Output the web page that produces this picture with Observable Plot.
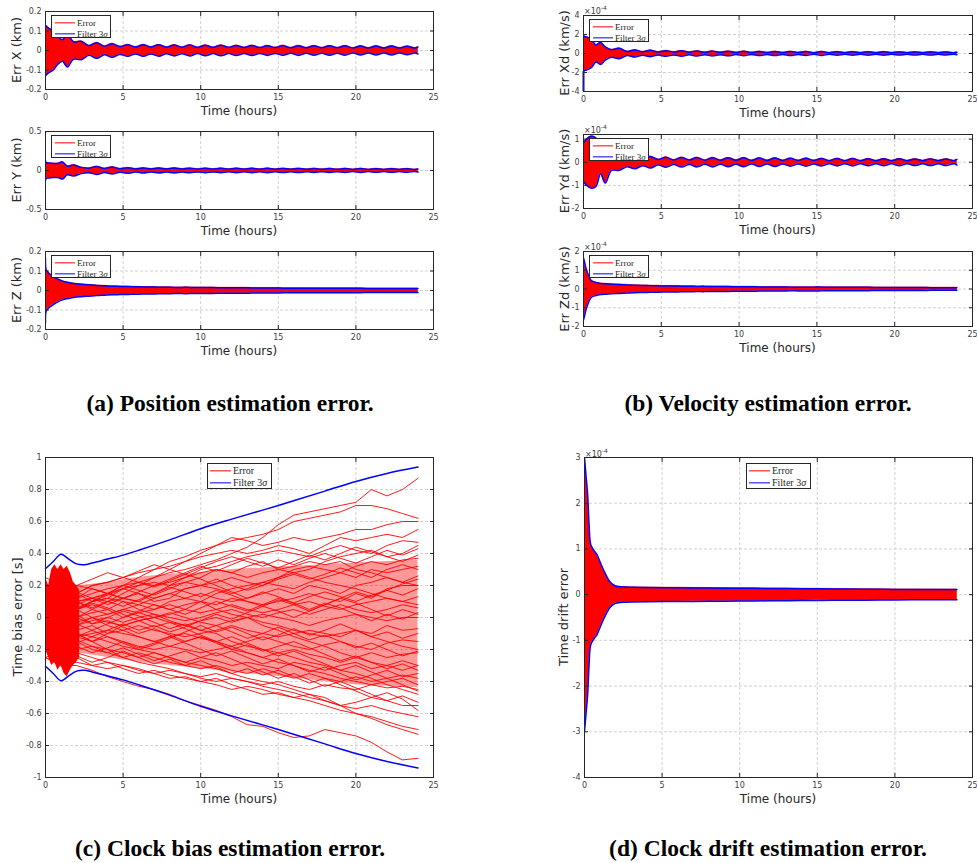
<!DOCTYPE html>
<html><head><meta charset="utf-8">
<script src="https://cdn.jsdelivr.net/npm/d3@7"></script>
<script src="https://cdn.jsdelivr.net/npm/@observablehq/plot@0.6"></script>
<style>
body{margin:0;background:#fff;}
#fig{position:relative;width:977px;height:863px;overflow:hidden;font-family:"DejaVu Sans",sans-serif;background:#fff;}
.ytitle{position:absolute;font-size:13px;color:#262626;transform:translate(-50%,-50%) rotate(-90deg);white-space:nowrap;line-height:1;}
.xtitle{position:absolute;font-size:12px;color:#262626;transform:translate(-50%,-50%);white-space:nowrap;line-height:1;}
.cap{position:absolute;font-family:"Liberation Serif","Times New Roman",serif;font-weight:bold;font-size:23.5px;line-height:1;transform:translateX(-50%);white-space:nowrap;color:#000;}
.leg{position:absolute;background:#fff;border:1px solid #262626;font-family:"Liberation Serif","DejaVu Serif",serif;color:#262626;box-sizing:border-box;}
.leg span.t{position:absolute;line-height:1;transform:translateY(-50%);white-space:nowrap;}
.leg div.l{position:absolute;height:1.3px;transform:translateY(-50%);}
.exp{position:absolute;font-size:8px;color:#404040;line-height:1;white-space:nowrap;}
.exp span{font-size:6px;vertical-align:4px;}
</style></head><body><div id="fig"></div><script>
// ---------- data ----------
const hourTicks = [0, 5, 10, 15, 20, 25];
// common time grid for the six small panels (hours)
const tS = [0, 0.05, 0.2, 0.5, 0.8, 1.1, 1.4, 1.8, 2.3, 2.8,
  3.3, 3.8, 4.3, 4.8, 5.3, 5.8, 6.3, 6.8, 7.3, 7.8,
  8.3, 8.8, 9.3, 9.8, 10.3, 10.8, 11.3, 11.8, 12.3, 12.8,
  13.3, 13.8, 14.3, 14.8, 15.3, 15.8, 16.3, 16.8, 17.3, 17.8,
  18.3, 18.8, 19.3, 19.8, 20.3, 20.8, 21.3, 21.8, 22.3, 22.8,
  23.3, 23.8, 24];
// filter 3-sigma envelopes (km)
const sigX = [0.13, 0.125, 0.115, 0.1, 0.07, 0.055, 0.085, 0.045, 0.047, 0.025,
  0.04, 0.022, 0.035, 0.02, 0.03, 0.018, 0.03, 0.018, 0.029, 0.017,
  0.028, 0.017, 0.028, 0.016, 0.027, 0.016, 0.027, 0.016, 0.026, 0.015,
  0.026, 0.015, 0.025, 0.015, 0.025, 0.014, 0.025, 0.014, 0.024, 0.014,
  0.024, 0.014, 0.024, 0.013, 0.023, 0.013, 0.023, 0.013, 0.023, 0.013,
  0.022, 0.013, 0.018];
const sigY = [0.52, 0.1, 0.095, 0.09, 0.09, 0.11, 0.055, 0.07, 0.04, 0.03,
  0.05, 0.025, 0.045, 0.022, 0.035, 0.02, 0.033, 0.02, 0.032, 0.019,
  0.031, 0.019, 0.03, 0.018, 0.03, 0.018, 0.029, 0.017, 0.029, 0.017,
  0.028, 0.016, 0.028, 0.016, 0.027, 0.016, 0.027, 0.015, 0.026, 0.015,
  0.026, 0.015, 0.025, 0.014, 0.025, 0.014, 0.024, 0.014, 0.024, 0.014,
  0.023, 0.013, 0.02];
const sigZ = [0.165, 0.105, 0.09, 0.072, 0.058, 0.048, 0.042, 0.036, 0.032, 0.029,
  0.026, 0.024, 0.022, 0.021, 0.02, 0.019, 0.018, 0.018, 0.017, 0.017,
  0.016, 0.016, 0.016, 0.015, 0.015, 0.015, 0.014, 0.014, 0.014, 0.014,
  0.013, 0.013, 0.013, 0.013, 0.012, 0.012, 0.012, 0.012, 0.012, 0.011,
  0.011, 0.011, 0.011, 0.011, 0.011, 0.01, 0.01, 0.01, 0.01, 0.01,
  0.01, 0.01, 0.01];
// velocity envelopes (x 1e-4 km/s)
const sigXd = [1.9, 1.8, 1.75, 1.5, 0.9, 1.15, 0.7, 0.4, 0.55, 0.2,
  0.38, 0.18, 0.33, 0.16, 0.3, 0.15, 0.28, 0.14, 0.26, 0.13,
  0.25, 0.12, 0.24, 0.11, 0.23, 0.11, 0.22, 0.1, 0.21, 0.1,
  0.21, 0.1, 0.2, 0.09, 0.2, 0.09, 0.19, 0.09, 0.19, 0.09,
  0.18, 0.08, 0.18, 0.08, 0.17, 0.08, 0.17, 0.08, 0.17, 0.08,
  0.16, 0.08, 0.12];
const xdInitialDrop = [-4, -1.9];
const sigYd = [0.85, 0.88, 1.0, 1.12, 1.05, 0.5, 0.9, 0.35, 0.35, 0.2,
  0.28, 0.15, 0.25, 0.12, 0.22, 0.1, 0.21, 0.1, 0.2, 0.09,
  0.2, 0.09, 0.19, 0.09, 0.19, 0.08, 0.18, 0.08, 0.18, 0.08,
  0.17, 0.08, 0.17, 0.08, 0.16, 0.07, 0.16, 0.07, 0.16, 0.07,
  0.15, 0.07, 0.15, 0.07, 0.15, 0.07, 0.14, 0.07, 0.14, 0.07,
  0.14, 0.07, 0.12];
const sigZd = [1.65, 1.5, 1.0, 0.45, 0.35, 0.3, 0.28, 0.26, 0.24, 0.22,
  0.2, 0.19, 0.18, 0.17, 0.16, 0.16, 0.15, 0.15, 0.14, 0.14,
  0.13, 0.13, 0.13, 0.12, 0.12, 0.12, 0.11, 0.11, 0.11, 0.11,
  0.1, 0.1, 0.1, 0.1, 0.1, 0.09, 0.09, 0.09, 0.09, 0.09,
  0.09, 0.08, 0.08, 0.08, 0.08, 0.08, 0.08, 0.08, 0.07, 0.07,
  0.07, 0.07, 0.07];
// clock bias (s)
const tCs = [0, 0.5, 1.0, 1.5, 2.0, 2.5, 3, 4, 5, 6, 8, 10, 12, 15, 18, 20, 22, 24];
const sigC = [0.305, 0.35, 0.395, 0.365, 0.335, 0.33, 0.34, 0.365, 0.39, 0.42, 0.485, 0.555, 0.615, 0.70, 0.79, 0.85, 0.9, 0.94];
const tEarly = [0, 0.2, 0.4, 0.6, 0.8, 1.0, 1.2, 1.4, 1.6, 1.8, 2.0, 2.2];
const earlyHi = [0.25, 0.2, 0.3, 0.33, 0.3, 0.33, 0.3, 0.32, 0.28, 0.22, 0.2, 0.17];
const earlyLo = [-0.2, -0.25, -0.3, -0.28, -0.33, -0.3, -0.35, -0.37, -0.33, -0.3, -0.28, -0.25];
// dense core of the Monte Carlo runs
const tCore = [0, 2, 4, 6, 8, 10, 12, 14, 16, 18, 20, 22, 24];
const coreHi = [0.2, 0.2, 0.22, 0.25, 0.27, 0.28, 0.3, 0.31, 0.32, 0.33, 0.34, 0.35, 0.36];
const coreLo = [-0.2, -0.22, -0.25, -0.28, -0.3, -0.32, -0.34, -0.36, -0.38, -0.4, -0.42, -0.43, -0.44];
const tC = [0, 1, 2, 3, 4, 5, 6, 7, 8, 9, 10, 11, 12, 13, 14, 15, 16, 17, 18, 19, 20, 21, 22, 23, 24];
const runC = [
  [0.05, 0.1, 0.12, 0.15, 0.18, 0.2, 0.22, 0.25, 0.28, 0.3, 0.33, 0.36, 0.4, 0.44, 0.5, 0.58, 0.64, 0.66, 0.68, 0.7, 0.72, 0.8, 0.76, 0.8, 0.87],
  [0.0, 0.05, 0.1, 0.12, 0.15, 0.2, 0.25, 0.3, 0.35, 0.38, 0.42, 0.45, 0.48, 0.5, 0.52, 0.55, 0.6, 0.62, 0.64, 0.66, 0.7, 0.7, 0.68, 0.65, 0.62],
  [0.1, 0.2, 0.15, 0.2, 0.22, 0.25, 0.28, 0.3, 0.32, 0.35, 0.4, 0.45, 0.5, 0.48, 0.45, 0.47, 0.5, 0.48, 0.5, 0.52, 0.55, 0.55, 0.58, 0.6, 0.6],
  [-0.1, 0.05, 0.1, 0.12, 0.1, 0.15, 0.2, 0.25, 0.3, 0.35, 0.38, 0.4, 0.42, 0.4, 0.42, 0.45, 0.43, 0.4, 0.45, 0.5, 0.48, 0.5, 0.52, 0.5, 0.55],
  [0.2, 0.1, 0.15, 0.1, 0.12, 0.18, 0.2, 0.22, 0.2, 0.25, 0.3, 0.32, 0.35, 0.38, 0.4, 0.42, 0.4, 0.38, 0.42, 0.45, 0.42, 0.4, 0.45, 0.48, 0.47],
  [0.0, -0.05, 0.05, 0.1, 0.15, 0.12, 0.1, 0.15, 0.2, 0.22, 0.25, 0.3, 0.28, 0.32, 0.35, 0.3, 0.28, 0.3, 0.35, 0.38, 0.4, 0.42, 0.38, 0.4, 0.45],
  [0.15, 0.2, 0.1, 0.05, 0.1, 0.12, 0.15, 0.1, 0.12, 0.18, 0.2, 0.22, 0.25, 0.22, 0.2, 0.25, 0.3, 0.32, 0.3, 0.28, 0.32, 0.35, 0.33, 0.36, 0.37],
  [-0.05, 0.0, 0.05, 0.08, 0.05, 0.1, 0.08, 0.12, 0.15, 0.12, 0.1, 0.15, 0.18, 0.2, 0.22, 0.2, 0.18, 0.22, 0.25, 0.28, 0.25, 0.3, 0.28, 0.3, 0.32],
  [0.1, 0.05, 0.0, 0.05, 0.02, 0.05, 0.08, 0.05, 0.1, 0.12, 0.15, 0.12, 0.1, 0.12, 0.15, 0.18, 0.15, 0.2, 0.18, 0.15, 0.2, 0.22, 0.25, 0.22, 0.26],
  [-0.1, -0.05, 0.0, 0.03, 0.05, 0.0, 0.03, 0.05, 0.08, 0.05, 0.1, 0.08, 0.12, 0.1, 0.08, 0.1, 0.12, 0.15, 0.12, 0.1, 0.15, 0.12, 0.18, 0.2, 0.2],
  [0.05, 0.0, -0.03, 0.0, 0.02, 0.05, 0.03, 0.0, 0.02, 0.05, 0.03, 0.05, 0.08, 0.05, 0.03, 0.05, 0.08, 0.1, 0.07, 0.05, 0.08, 0.1, 0.12, 0.1, 0.13],
  [-0.15, -0.1, -0.05, -0.02, 0.0, -0.03, 0.0, 0.02, 0.0, -0.02, 0.0, 0.03, 0.05, 0.02, 0.0, 0.03, 0.05, 0.02, 0.05, 0.08, 0.05, 0.03, 0.05, 0.08, 0.06],
  [0.2, 0.1, 0.05, 0.0, -0.03, -0.05, -0.02, 0.0, -0.03, -0.05, -0.02, 0.0, -0.03, 0.0, 0.02, 0.0, -0.02, -0.05, -0.02, 0.0, 0.02, 0.0, -0.02, 0.0, 0.0],
  [0.0, -0.05, -0.08, -0.05, -0.1, -0.08, -0.05, -0.08, -0.1, -0.12, -0.1, -0.08, -0.05, -0.08, -0.1, -0.12, -0.1, -0.08, -0.1, -0.12, -0.08, -0.1, -0.05, -0.08, -0.07],
  [-0.2, -0.1, -0.12, -0.1, -0.08, -0.1, -0.12, -0.15, -0.12, -0.1, -0.13, -0.15, -0.18, -0.15, -0.12, -0.15, -0.18, -0.2, -0.17, -0.15, -0.18, -0.2, -0.16, -0.14, -0.15],
  [0.05, -0.05, -0.1, -0.15, -0.12, -0.15, -0.18, -0.2, -0.18, -0.2, -0.22, -0.2, -0.18, -0.22, -0.25, -0.22, -0.2, -0.23, -0.25, -0.28, -0.25, -0.22, -0.25, -0.23, -0.22],
  [-0.1, -0.15, -0.2, -0.18, -0.2, -0.22, -0.25, -0.22, -0.25, -0.28, -0.25, -0.27, -0.3, -0.28, -0.3, -0.32, -0.28, -0.3, -0.33, -0.3, -0.28, -0.32, -0.3, -0.33, -0.3],
  [0.1, 0.0, -0.1, -0.15, -0.2, -0.25, -0.22, -0.25, -0.28, -0.3, -0.32, -0.3, -0.33, -0.35, -0.32, -0.35, -0.38, -0.35, -0.38, -0.4, -0.37, -0.4, -0.38, -0.36, -0.38],
  [-0.2, -0.25, -0.22, -0.25, -0.28, -0.3, -0.32, -0.35, -0.33, -0.35, -0.38, -0.4, -0.38, -0.4, -0.42, -0.4, -0.43, -0.45, -0.42, -0.44, -0.45, -0.42, -0.44, -0.43, -0.45],
  [0.0, -0.1, -0.15, -0.2, -0.22, -0.25, -0.28, -0.3, -0.32, -0.35, -0.37, -0.35, -0.38, -0.4, -0.43, -0.45, -0.47, -0.5, -0.52, -0.55, -0.53, -0.5, -0.52, -0.55, -0.55],
  [-0.25, -0.3, -0.28, -0.3, -0.32, -0.3, -0.33, -0.35, -0.38, -0.37, -0.4, -0.42, -0.45, -0.43, -0.45, -0.48, -0.5, -0.48, -0.52, -0.55, -0.57, -0.55, -0.58, -0.6, -0.62],
  [-0.1, -0.2, -0.25, -0.3, -0.28, -0.32, -0.35, -0.33, -0.36, -0.38, -0.4, -0.38, -0.42, -0.45, -0.48, -0.47, -0.5, -0.52, -0.55, -0.58, -0.6, -0.62, -0.65, -0.68, -0.7],
  [0.05, -0.05, -0.1, -0.12, -0.15, -0.18, -0.2, -0.22, -0.25, -0.28, -0.3, -0.32, -0.35, -0.38, -0.4, -0.42, -0.45, -0.48, -0.5, -0.55, -0.6, -0.63, -0.67, -0.7, -0.73],
  [-0.25, -0.3, -0.3, -0.33, -0.37, -0.4, -0.43, -0.45, -0.48, -0.52, -0.55, -0.58, -0.62, -0.67, -0.68, -0.72, -0.75, -0.74, -0.7, -0.72, -0.74, -0.78, -0.84, -0.89, -0.88],
  [0.1, 0.15, 0.2, 0.18, 0.15, 0.12, 0.1, 0.08, 0.05, 0.08, 0.1, 0.05, 0.02, 0.0, -0.03, -0.05, -0.08, -0.1, -0.12, -0.1, -0.08, -0.12, -0.15, -0.18, -0.2],
  [-0.15, -0.05, 0.05, 0.1, 0.12, 0.1, 0.05, 0.02, -0.02, -0.05, -0.08, -0.1, -0.15, -0.18, -0.2, -0.22, -0.25, -0.28, -0.3, -0.33, -0.35, -0.38, -0.42, -0.45, -0.48],
  [0.0, 0.05, 0.08, 0.12, 0.15, 0.18, 0.15, 0.12, 0.15, 0.18, 0.2, 0.18, 0.15, 0.18, 0.22, 0.25, 0.28, 0.25, 0.22, 0.2, 0.18, 0.15, 0.12, 0.1, 0.08],
  [-0.05, -0.1, -0.05, 0.0, -0.05, -0.08, -0.12, -0.15, -0.18, -0.15, -0.12, -0.15, -0.2, -0.22, -0.25, -0.28, -0.3, -0.33, -0.35, -0.38, -0.4, -0.42, -0.4, -0.38, -0.42],
  [0.05, 0.1, 0.15, 0.2, 0.22, 0.25, 0.22, 0.2, 0.22, 0.25, 0.28, 0.3, 0.28, 0.25, 0.28, 0.3, 0.32, 0.35, 0.33, 0.35, 0.3, 0.28, 0.25, 0.22, 0.2],
  [-0.1, -0.08, -0.12, -0.15, -0.1, -0.05, -0.02, 0.0, 0.03, 0.0, -0.03, -0.05, -0.02, 0.0, -0.05, -0.08, -0.12, -0.15, -0.18, -0.22, -0.25, -0.28, -0.3, -0.27, -0.3],
  [0.1, 0.05, 0.12, 0.18, 0.15, 0.2, 0.17, 0.14, 0.18, 0.22, 0.2, 0.24, 0.2, 0.17, 0.2, 0.24, 0.27, 0.24, 0.27, 0.31, 0.28, 0.25, 0.3, 0.33, 0.3],
  [-0.05, 0.02, -0.04, -0.08, -0.04, 0.0, 0.04, 0.08, 0.05, 0.02, 0.06, 0.1, 0.07, 0.04, 0.08, 0.12, 0.09, 0.13, 0.16, 0.13, 0.1, 0.14, 0.17, 0.14, 0.18],
  [0.15, 0.08, 0.02, -0.04, -0.02, -0.06, -0.1, -0.07, -0.11, -0.15, -0.12, -0.16, -0.2, -0.17, -0.21, -0.18, -0.15, -0.19, -0.23, -0.27, -0.24, -0.28, -0.32, -0.29, -0.33],
  [-0.2, -0.14, -0.18, -0.22, -0.19, -0.15, -0.19, -0.16, -0.12, -0.16, -0.2, -0.24, -0.21, -0.25, -0.29, -0.26, -0.3, -0.34, -0.31, -0.35, -0.39, -0.36, -0.33, -0.37, -0.35],
  [0.05, 0.1, 0.06, 0.1, 0.14, 0.18, 0.22, 0.19, 0.23, 0.27, 0.24, 0.2, 0.16, 0.12, 0.16, 0.13, 0.09, 0.05, 0.09, 0.06, 0.02, -0.02, 0.02, -0.01, 0.03],
  [-0.1, -0.16, -0.12, -0.08, -0.12, -0.16, -0.2, -0.17, -0.13, -0.09, -0.05, -0.09, -0.06, -0.1, -0.14, -0.11, -0.07, -0.11, -0.08, -0.04, -0.08, -0.12, -0.09, -0.13, -0.1],
  [0.2, 0.15, 0.2, 0.24, 0.28, 0.25, 0.29, 0.33, 0.3, 0.27, 0.31, 0.35, 0.38, 0.35, 0.32, 0.36, 0.33, 0.37, 0.4, 0.37, 0.34, 0.38, 0.42, 0.39, 0.43],
  [0.0, 0.04, 0.0, -0.04, 0.0, 0.04, 0.01, -0.03, -0.07, -0.04, -0.08, -0.05, -0.09, -0.13, -0.1, -0.06, -0.1, -0.14, -0.11, -0.15, -0.19, -0.16, -0.2, -0.24, -0.21],
  [-0.05, -0.1, -0.14, -0.18, -0.22, -0.19, -0.23, -0.27, -0.24, -0.21, -0.25, -0.22, -0.26, -0.3, -0.34, -0.38, -0.35, -0.39, -0.43, -0.4, -0.44, -0.48, -0.52, -0.49, -0.53],
  [0.1, 0.14, 0.1, 0.06, 0.1, 0.07, 0.11, 0.15, 0.19, 0.16, 0.13, 0.17, 0.14, 0.1, 0.07, 0.11, 0.08, 0.04, 0.08, 0.12, 0.09, 0.05, 0.01, 0.05, 0.02],
  [-0.15, -0.2, -0.16, -0.12, -0.08, -0.04, -0.08, -0.05, -0.09, -0.06, -0.02, 0.02, -0.01, 0.03, 0.07, 0.04, 0.0, 0.04, 0.08, 0.12, 0.16, 0.13, 0.17, 0.21, 0.24],
  [0.05, 0.0, 0.05, 0.09, 0.06, 0.02, -0.02, -0.06, -0.03, -0.07, -0.11, -0.15, -0.12, -0.16, -0.2, -0.24, -0.21, -0.25, -0.29, -0.33, -0.3, -0.34, -0.38, -0.42, -0.46],
  [0.25, 0.2, 0.16, 0.12, 0.08, 0.12, 0.16, 0.2, 0.24, 0.28, 0.32, 0.29, 0.33, 0.37, 0.34, 0.31, 0.35, 0.39, 0.36, 0.4, 0.44, 0.41, 0.38, 0.35, 0.39],
  [-0.25, -0.2, -0.24, -0.28, -0.25, -0.21, -0.25, -0.29, -0.26, -0.3, -0.27, -0.31, -0.35, -0.32, -0.36, -0.33, -0.37, -0.41, -0.38, -0.42, -0.46, -0.5, -0.47, -0.51, -0.58]
];
// clock drift (x 1e-4)
const tD = [0, 0.1, 0.2, 0.3, 0.4, 0.6, 0.8, 1.0, 1.2, 1.4, 1.6, 1.8, 2.0, 2.3, 2.6, 3, 4, 6, 8, 10, 12, 14, 16, 18, 20, 22, 24];
const sigD = [3.0, 2.6, 2.2, 1.5, 1.1, 0.97, 0.88, 0.72, 0.56, 0.42, 0.3, 0.23, 0.19, 0.17, 0.165, 0.16, 0.155, 0.15, 0.145, 0.14, 0.135, 0.13, 0.125, 0.12, 0.115, 0.112, 0.11];

// tick labels
const yTicksX = [-0.2, -0.1, 0, 0.1, 0.2];
const yTicksY = [-0.5, 0, 0.5];
const yTicksXd = [-4, -2, 0, 2, 4];
const yTicksYd = [-2, -1, 0, 1];
const yTicksZd = [-2, -1, 0, 1, 2];
const yTicksC = [-1, -0.8, -0.6, -0.4, -0.2, 0, 0.2, 0.4, 0.6, 0.8, 1];
const yTicksD = [-4, -3, -2, -1, 0, 1, 2, 3];

// ---------- drawing ----------
const RED = "#ff0000", BLUE = "#0000ff", INK = "#262626";
const fig = document.getElementById("fig");
const grid = {stroke: "#d2d2d2", strokeOpacity: 1, strokeDasharray: "3,2"};

function axes(yTicks) {
  return [
    Plot.axisX(hourTicks, {anchor: "bottom", tickSize: 0, tickPadding: 5, tickFormat: d => String(d), label: null, fill: "#404040"}),
    Plot.axisX(hourTicks, {anchor: "bottom", tickSize: -4, fill: "none", label: null, stroke: INK}),
    Plot.axisX(hourTicks, {anchor: "top", tickSize: -4, fill: "none", label: null, stroke: INK}),
    Plot.axisY(yTicks, {anchor: "left", tickSize: 0, tickPadding: 4, tickFormat: d => String(d), label: null, fill: "#404040"}),
    Plot.axisY(yTicks, {anchor: "left", tickSize: -4, fill: "none", label: null, stroke: INK}),
    Plot.axisY(yTicks, {anchor: "right", tickSize: -4, fill: "none", label: null, stroke: INK}),
    Plot.frame({stroke: INK, strokeWidth: 1})
  ];
}

function panel(box, yDomain, yTicks, dataMarks) {
  const mL = 40, mR = 4, mT = 6, mB = 22;
  const svg = Plot.plot({
    width: box.R - box.L + mL + mR, height: box.B - box.T + mT + mB,
    marginLeft: mL, marginRight: mR, marginTop: mT, marginBottom: mB,
    style: {fontFamily: "DejaVu Sans", fontSize: "8px", color: INK, background: "transparent", overflow: "visible"},
    x: {domain: [0, 25]},
    y: {domain: yDomain},
    marks: [Plot.gridX(hourTicks, grid), Plot.gridY(yTicks, grid), ...dataMarks, ...axes(yTicks)]
  });
  svg.style.position = "absolute";
  svg.style.left = (box.L - mL) + "px";
  svg.style.top = (box.T - mT) + "px";
  fig.appendChild(svg);
}

function envelopeMarks(t, s) {
  const rows = t.map((tt, i) => ({t: tt, s: s[i]}));
  const c = "catmull-rom";
  return [
    Plot.area(rows, {x1: "t", y1: d => -d.s, y2: "s", fill: RED, stroke: RED, strokeWidth: 0.6, curve: c, clip: true}),
    Plot.line(rows, {x: "t", y: "s", stroke: BLUE, strokeWidth: 1.5, curve: c, clip: true}),
    Plot.line(rows, {x: "t", y: d => -d.s, stroke: BLUE, strokeWidth: 1.5, curve: c, clip: true})
  ];
}

function addEl(cls, html, x, y) {
  const d = document.createElement("div");
  d.className = cls; d.innerHTML = html;
  d.style.left = x + "px"; d.style.top = y + "px";
  fig.appendChild(d); return d;
}

function legend(x, y, w, h, fs, c1, c2, lx0, lx1, tx) {
  const d = document.createElement("div");
  d.className = "leg";
  Object.assign(d.style, {left: x + "px", top: y + "px", width: w + "px", height: h + "px", fontSize: fs + "px"});
  [[c1, RED, "Error"], [c2, BLUE, "Filter 3<i>σ</i>"]].forEach(([cy, col, txt]) => {
    const l = document.createElement("div"); l.className = "l";
    Object.assign(l.style, {left: lx0 + "px", width: (lx1 - lx0) + "px", top: cy + "px", background: col});
    d.appendChild(l);
    const s = document.createElement("span"); s.className = "t"; s.innerHTML = txt;
    Object.assign(s.style, {left: tx + "px", top: cy + "px"});
    d.appendChild(s);
  });
  fig.appendChild(d);
}
function smallLegend(box) { legend(box.L + 6, box.T + 4, 60, 23, 9, 7, 17.5, 2.5, 22.5, 25); }
function bigLegend(box) { legend((box.L + box.R) / 2 - 32.5, box.T + 6, 65, 26, 10, 6.5, 19, 2.5, 23.5, 25.5); }

function titles(box, ytxt, yx) {
  addEl("xtitle", "Time (hours)", (box.L + box.R) / 2, box.B + 22);
  addEl("ytitle", ytxt, yx, (box.T + box.B) / 2);
}

// panel boxes (frame edges in page pixels)
const bX = {L: 45, R: 433, T: 11, B: 89};
const bY = {L: 45, R: 433, T: 131, B: 209};
const bZ = {L: 45, R: 433, T: 251, B: 329};
const bXd = {L: 583, R: 972, T: 15, B: 91};
const bYd = {L: 583, R: 972, T: 134, B: 208};
const bZd = {L: 583, R: 972, T: 251, B: 326};
const bC = {L: 45, R: 433, T: 457, B: 777};
const bD = {L: 584, R: 972, T: 457, B: 777};

// (a) position
panel(bX, [-0.2, 0.2], yTicksX, envelopeMarks(tS, sigX));
panel(bY, [-0.5, 0.5], yTicksY, envelopeMarks(tS, sigY));
panel(bZ, [-0.2, 0.2], yTicksX, envelopeMarks(tS, sigZ));
// (b) velocity
panel(bXd, [-4, 4], yTicksXd, [
  ...envelopeMarks(tS, sigXd),
  Plot.ruleX([{t: 0, lo: xdInitialDrop[0], hi: xdInitialDrop[1]}], {x: "t", y1: "lo", y2: "hi", stroke: BLUE, strokeWidth: 2})
]);
panel(bYd, [-2, 1.2], yTicksYd, envelopeMarks(tS, sigYd));
panel(bZd, [-2, 2], yTicksZd, envelopeMarks(tS, sigZd));
// (c) clock bias
const earlyRows = tEarly.map((t, i) => ({t, hi: earlyHi[i], lo: earlyLo[i]}));
const coreRows = tCore.map((t, i) => ({t, hi: coreHi[i], lo: coreLo[i]}));
const runRows = runC.flatMap((run, k) => tC.map((t, i) => ({t, v: run[i], k})));
const sigRows = tCs.map((t, i) => ({t, s: sigC[i]}));
panel(bC, [-1, 1], yTicksC, [
  Plot.area(coreRows, {x1: "t", y1: "lo", y2: "hi", fill: RED, fillOpacity: 0.4, curve: "catmull-rom"}),
  Plot.area(earlyRows, {x1: "t", y1: "lo", y2: "hi", fill: RED, curve: "linear"}),
  Plot.line(runRows, {x: "t", y: "v", z: "k", stroke: RED, strokeWidth: 0.9}),
  Plot.line(sigRows, {x: "t", y: "s", stroke: BLUE, strokeWidth: 1.5, curve: "catmull-rom"}),
  Plot.line(sigRows, {x: "t", y: d => -d.s, stroke: BLUE, strokeWidth: 1.5, curve: "catmull-rom"})
]);
// (d) clock drift
panel(bD, [-4, 3], yTicksD, envelopeMarks(tD, sigD));

// titles
titles(bX, "Err X (km)", 16);
titles(bY, "Err Y (km)", 16);
titles(bZ, "Err Z (km)", 16);
titles(bXd, "Err Xd (km/s)", 564);
titles(bYd, "Err Yd (km/s)", 564);
titles(bZd, "Err Zd (km/s)", 564);
titles(bC, "Time bias error [s]", 17);
titles(bD, "Time drift error", 563);

// legends
[bX, bY, bZ, bXd, bYd, bZd].forEach(smallLegend);
bigLegend(bC); bigLegend(bD);

// exponent labels
addEl("exp", "×10<span>-4</span>", 584, bXd.T - 10);
addEl("exp", "×10<span>-4</span>", 584, bYd.T - 10);
addEl("exp", "×10<span>-4</span>", 584, bZd.T - 10);
addEl("exp", "×10<span>-4</span>", 585, bD.T - 9);

// captions
addEl("cap", "(a) Position estimation error.", 230, 392);
addEl("cap", "(b) Velocity estimation error.", 768, 392);
addEl("cap", "(c) Clock bias estimation error.", 230, 837);
addEl("cap", "(d) Clock drift estimation error.", 768, 837);
</script></body></html>
